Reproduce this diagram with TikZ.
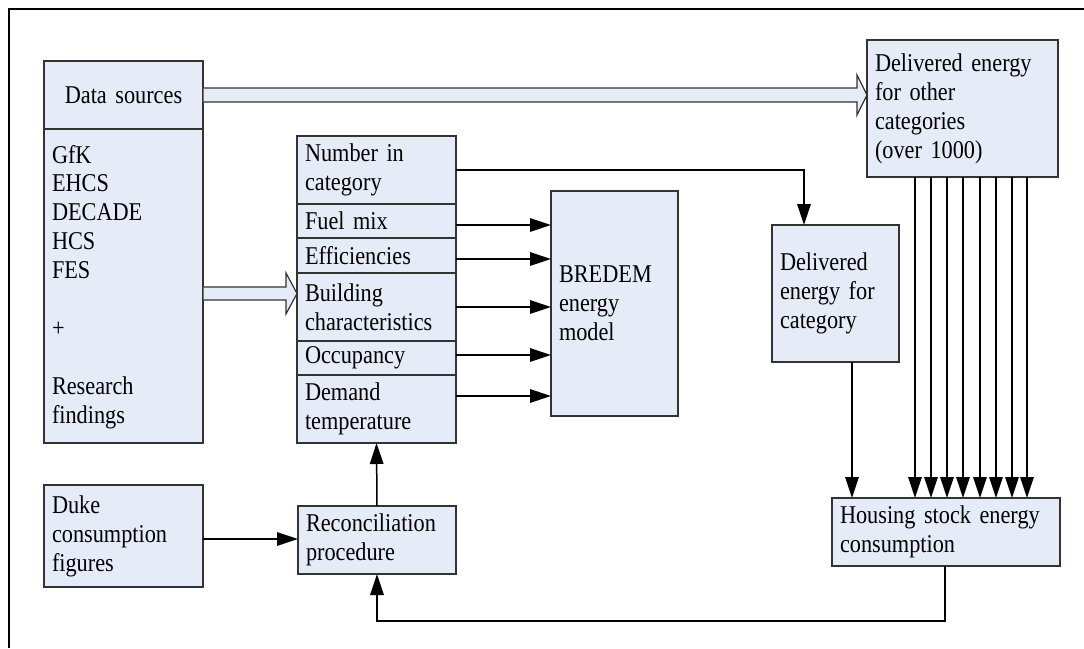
\documentclass[tikz,border=0pt]{standalone}
\usepackage{fontspec}
\setmainfont{Liberation Serif}[FakeStretch=0.87]
\usetikzlibrary{arrows.meta,calc}
\definecolor{boxfill}{HTML}{E6ECF7}
\definecolor{boxline}{HTML}{333333}
\newcommand{\bodyfont}{\fontsize{25.6}{28.9}\selectfont}
\begin{document}
\begin{tikzpicture}[x=1pt,y=-1pt,
  box/.style={rectangle, draw=boxline, fill=boxfill, line width=1.2pt,
    inner xsep=8pt, inner ysep=0pt, outer sep=0pt, align=left,
    anchor=north west, font=\bodyfont},
  txt/.style={inner sep=0pt, outer sep=0pt, align=left, font=\bodyfont},
  conn/.style={draw=black, line width=1.5pt,
    -{Triangle[length=21pt,width=13.5pt]}},
  hollow/.style={draw=boxline, fill=boxfill, line width=1.2pt, line join=miter},
  frame/.style={draw=black, line width=1.5pt}]

\useasboundingbox (0,0) rectangle (1084,648);
\draw[frame] (1084,9) -- (9,9) -- (9,648);

% data sources
\node[box, align=center, minimum width=159pt, minimum height=68pt, text width=143pt] (dsHead) at (44,61) {Data sources};
\node[box, minimum width=159pt, minimum height=314pt] (dsList) at (44,129) {};
\node[txt, text width=143pt, anchor=base west] (dsText) at (52,163)
  {GfK\\EHCS\\DECADE\\HCS\\FES\\[28.9pt]+\\[28.9pt]Research\\findings};

% category attributes
\node[box, minimum width=159pt, minimum height=68pt, text width=143pt] (num)   at (297,136) {Number in\\category};
\node[box, minimum width=159pt, minimum height=34pt, text width=143pt] (fuel)  at (297,204) {Fuel mix};
\node[box, minimum width=159pt, minimum height=35pt, text width=143pt] (eff)   at (297,238) {Efficiencies};
\node[box, minimum width=159pt, minimum height=68pt, text width=143pt] (build) at (297,273) {Building\\characteristics};
\node[box, minimum width=159pt, minimum height=34pt, text width=143pt] (occ)   at (297,341) {Occupancy};
\node[box, minimum width=159pt, minimum height=68pt, text width=143pt] (dem)   at (297,375) {Demand\\temperature};

% model and results
\node[box, minimum width=127pt, minimum height=225pt, text width=111pt] (bredem) at (551,191) {BREDEM\\energy\\model};
\node[box, minimum width=191pt, minimum height=137pt, text width=175pt] (other) at (867,40) {Delivered energy\\for other\\categories\\(over 1000)};
\node[box, minimum width=127pt, minimum height=137pt, text width=111pt] (cat) at (772,225) {Delivered\\energy for\\category};
\node[box, minimum width=228pt, minimum height=68pt, text width=212pt] (housing) at (832,498) {Housing stock energy\\consumption};
\node[box, minimum width=159pt, minimum height=102pt, text width=143pt] (duke) at (44,485) {Duke\\consumption\\figures};
\node[box, minimum width=158pt, minimum height=68pt, text width=142pt] (recon) at (298,506) {Reconciliation\\procedure};

% broad data-flow arrows
\coordinate (h1s) at (dsHead.east);
\coordinate (h1t) at (other.west |- dsHead.east);
\draw[hollow] ($(h1s)+(0.7,-7)$) -- ($(h1t)+(-10,-7)$) -- ($(h1t)+(-10,-20)$) -- (h1t)
  -- ($(h1t)+(-10,20)$) -- ($(h1t)+(-10,7)$) -- ($(h1s)+(0.7,7)$);
\coordinate (h2s) at ([yshift=-7.5pt]dsList.east);
\coordinate (h2t) at (build.west |- h2s);
\draw[hollow] ($(h2s)+(0.7,-6.5)$) -- ($(h2t)+(-11,-6.5)$) -- ($(h2t)+(-11,-20.5)$) -- (h2t)
  -- ($(h2t)+(-11,20.5)$) -- ($(h2t)+(-11,6.5)$) -- ($(h2s)+(0.7,6.5)$);

% inputs to the energy model
\foreach \n/\s in {fuel/-4,eff/-3.5,build/0,occ/3,dem/13} {
  \coordinate (p) at ([yshift=\s pt]\n.east);
  \draw[conn] (p) -- (p -| bredem.west);
}

% number in category to delivered energy
\coordinate (catin) at ([xshift=32pt]cat.north west);
\draw[conn] (num.east) -| (catin);

% delivered energy to housing stock
\coordinate (catout) at ([xshift=80pt]cat.south west);
\draw[conn] (catout) -- (catout |- housing.north);
\foreach \x in {915,931,947,963,980,996,1012,1027} {
  \coordinate (t) at (\x,0);
  \draw[conn] (other.south -| t) -- (housing.north -| t);
}

% reconciliation loop
\coordinate (hx) at (945,0);
\coordinate (loopy) at (0,621);
\draw[conn] (housing.south -| hx) |- (loopy -| recon.south) -- (recon.south);
\draw[conn] (recon.north) -- (dem.south);
\coordinate (dk) at ([yshift=-3pt]duke.east);
\draw[conn] (dk) -- (dk -| recon.west);

\end{tikzpicture}
\end{document}
